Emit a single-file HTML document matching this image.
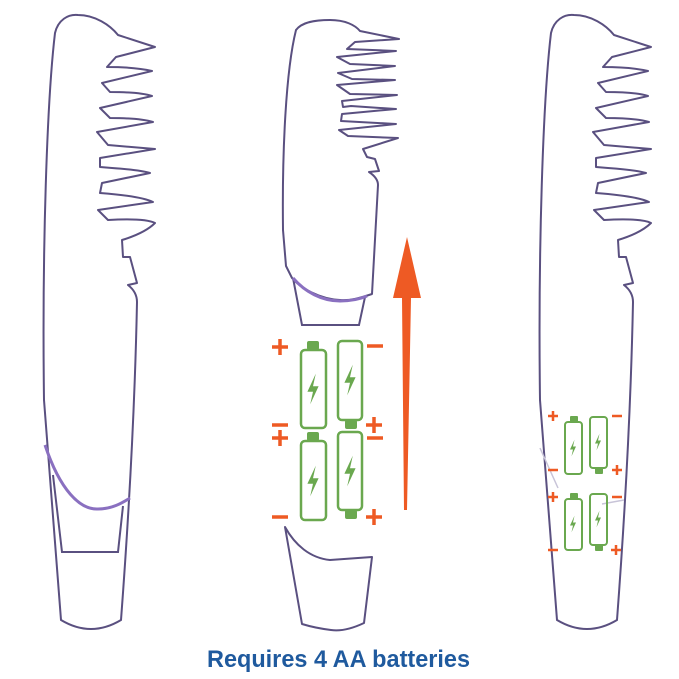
<!DOCTYPE html>
<html><head><meta charset="utf-8"><style>html,body{margin:0;padding:0;background:#fff}svg{display:block}</style></head>
<body>
<svg width="679" height="679" viewBox="0 0 679 679" xmlns="http://www.w3.org/2000/svg">
<defs>
<g id="comb">
<path d="M55,33 C58,20 68,14 78,15 C95,15 110,25 118,35 L155,47 L116,57 L107,67 Q135,67 152,71 L102,83 L110,92 Q140,92 152,96 L100,108 L110,118 Q140,118 153,122 L97,132 L108,145 L155,149 L100,158 L100,167 L112,168 Q140,170 150,173 L102,183 L100,193 Q140,196 153,202 L98,210 L108,220 Q145,218 155,223 Q145,233 122,240 L123,257 L130,257 L137,283 L128,285 Q137,292 137,302 C135,400 130,500 121,620 Q91,638 61,620 L44,400 C42,250 47,100 55,33 Z" fill="none" stroke="#5a5080" stroke-width="2" stroke-linejoin="round"/>
</g>
<g id="bolt"><path d="M2,-11 L-4,2 L0,2 L-2,11 L4,-2 L0,-2 Z" fill="#6aa84f"/></g>
</defs>
<use href="#comb"/>
<path d="M53,475 L62,552 L118,552 L123,506" fill="none" stroke="#5a5080" stroke-width="2"/>
<path d="M45,445 C60,490 80,510 98,509 C112,509 122,503 130,498" fill="none" stroke="#8a70c0" stroke-width="3"/>
<use href="#comb" transform="translate(496,0)"/>
<path d="M540,448 L558,488" stroke="#c8c4d8" stroke-width="1.5"/>
<path d="M602,504 L624,500" stroke="#c8c4d8" stroke-width="1.5"/>
<path d="M296,30 C302,22 315,20 330,20 C345,20 355,25 360,31 L399,39 L355,42 L347,49 L396,51 L337,57 L350,64 L395,66 L338,73 L352,79 L395,80 L337,85 L350,94 L397,95 L342,101 L343,107 L351,106 L396,109 L342,114 L341,121 L396,124 L339,130 L348,136 L398,138 L363,149 L367,157 L375,159 L379,171 L369,172 Q378,178 378,185 L372,294 C360,298 350,301 340,300 C320,299 300,288 292,278 L286,266 L283,230 C282,150 286,70 296,30 Z" fill="none" stroke="#5a5080" stroke-width="2" stroke-linejoin="round"/>
<path d="M293,278 L302,325 L359,325 L365,297" fill="none" stroke="#5a5080" stroke-width="2"/>
<path d="M293,278 C305,292 322,301 340,301 C352,301 360,299 367,296" fill="none" stroke="#8a70c0" stroke-width="3"/>
<path d="M285,527 C295,545 310,558 330,560 L372,557 L364,623 Q345,632 331,630 Q315,628 302,624 Z" fill="none" stroke="#5a5080" stroke-width="2" stroke-linejoin="round"/>
<path d="M404,510 L402,298 L393,298 L407,237 L421,298 L411,298 L407,510 Z" fill="#ee5a24"/>
<g fill="none" stroke="#6aa84f" stroke-width="2.5">
<rect x="301" y="350" width="25" height="78" rx="4"/>
<rect x="338" y="341" width="24" height="79" rx="4"/>
<rect x="301" y="441" width="25" height="79" rx="4"/>
<rect x="338" y="432" width="24" height="78" rx="4"/>
</g>
<g fill="#6aa84f">
<rect x="307" y="341" width="12" height="9" rx="2"/>
<rect x="345" y="420" width="12" height="9" rx="2"/>
<rect x="307" y="432" width="12" height="9" rx="2"/>
<rect x="345" y="510" width="12" height="9" rx="2"/>
</g>
<use href="#bolt" transform="translate(313,389) scale(1.4)"/>
<use href="#bolt" transform="translate(350,380) scale(1.4)"/>
<use href="#bolt" transform="translate(313,481) scale(1.4)"/>
<use href="#bolt" transform="translate(350,471) scale(1.4)"/>
<g stroke="#ee5a24" stroke-width="3.5">
<path d="M272,347 H288 M280,339 V355"/>
<path d="M367,346 H383"/>
<path d="M272,425 H288"/>
<path d="M366,425 H382 M374,417 V433"/>
<path d="M272,438 H288 M280,430 V446"/>
<path d="M367,438 H383"/>
<path d="M272,517 H288"/>
<path d="M366,517 H382 M374,509 V525"/>
</g>
<g fill="none" stroke="#6aa84f" stroke-width="2">
<rect x="565" y="422" width="17" height="52" rx="3"/>
<rect x="590" y="417" width="17" height="51" rx="3"/>
<rect x="565" y="499" width="17" height="51" rx="3"/>
<rect x="590" y="494" width="17" height="51" rx="3"/>
</g>
<g fill="#6aa84f">
<rect x="570" y="416" width="8" height="6" rx="1"/>
<rect x="595" y="468" width="8" height="6" rx="1"/>
<rect x="570" y="493" width="8" height="6" rx="1"/>
<rect x="595" y="545" width="8" height="6" rx="1"/>
</g>
<use href="#bolt" transform="translate(573,448) scale(0.75)"/>
<use href="#bolt" transform="translate(598,442) scale(0.75)"/>
<use href="#bolt" transform="translate(573,524) scale(0.75)"/>
<use href="#bolt" transform="translate(598,519) scale(0.75)"/>
<g stroke="#ee5a24" stroke-width="2.5">
<path d="M548,416 H558 M553,411 V421"/>
<path d="M612,416 H622"/>
<path d="M548,470 H558"/>
<path d="M612,470 H622 M617,465 V475"/>
<path d="M548,497 H558 M553,492 V502"/>
<path d="M612,497 H622"/>
<path d="M548,550 H558"/>
<path d="M611,550 H621 M616,545 V555"/>
</g>
<text x="207" y="667" font-family="Liberation Sans, sans-serif" font-weight="bold" font-size="24" fill="#1f5a9e" textLength="263" lengthAdjust="spacingAndGlyphs">Requires 4 AA batteries</text>
</svg>
</body></html>
